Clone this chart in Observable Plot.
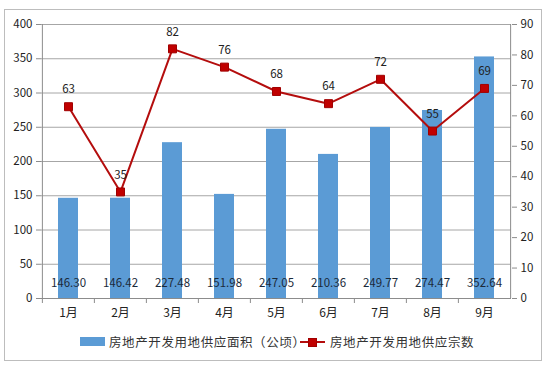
<!DOCTYPE html>
<html><head><meta charset="utf-8">
<script src="https://cdn.jsdelivr.net/npm/d3@7"></script>
<script src="https://cdn.jsdelivr.net/npm/@observablehq/plot@0.6"></script>
<style>
body{margin:0;background:#fff;font-family:"Noto Sans CJK SC",sans-serif;}
#frame{position:absolute;left:4px;top:9px;width:538px;height:352px;border:1px solid #bdbdbd;box-sizing:border-box;}
#plot{position:absolute;left:0;top:0;}
#legend{position:absolute;left:0;top:332px;width:550px;font-size:12.5px;color:#333;letter-spacing:0.6px;}
.li{position:absolute;top:0;display:flex;align-items:center;white-space:nowrap;}
</style></head>
<body>
<div id="frame"></div>
<div id="plot"></div>
<div id="legend">
  <div class="li" style="left:80px"><span style="display:inline-block;width:25px;height:9px;background:#5b9bd5;margin-right:4px"></span><span id="l1"></span></div>
  <div class="li" style="left:300px"><svg width="26" height="12" style="margin-right:4px"><line x1="0" y1="6" x2="25" y2="6" stroke="#b40d0d" stroke-width="2"/><rect x="8.5" y="2.5" width="8" height="8" fill="#c00000" stroke="#a00000"/></svg><span id="l2"></span></div>
</div>
<script>
const months = ["1月","2月","3月","4月","5月","6月","7月","8月","9月"];
const areas = [146.30,146.42,227.48,151.98,247.05,210.36,249.77,274.47,352.64];
const counts = [63,35,82,76,68,64,72,55,69];
const leftTicks = [0,50,100,150,200,250,300,350,400];
const rightTicks = [0,10,20,30,40,50,60,70,80,90];
const seriesNames = ["房地产开发用地供应面积（公顷）","房地产开发用地供应宗数"];

document.getElementById("l1").textContent = seriesNames[0];
document.getElementById("l2").textContent = seriesNames[1];

const yMax = 400, rMax = 90;
const toLeft = v => v * yMax / rMax;
const data = months.map((m,i)=>({m, a: areas[i], c: counts[i], cy: toLeft(counts[i])}));

const W = 550, H = 330, mL = 41, mR = 39;
const bw = (W - mL - mR) / months.length;
const gray = "#8c8c8c";

const chart = Plot.plot({
  width: W, height: H,
  marginLeft: mL, marginRight: mR, marginTop: 24, marginBottom: 32,
  style: {fontFamily: '"Noto Sans CJK SC", sans-serif', fontSize: "11.5px", color: "#222", background: "transparent"},
  x: {type: "band", domain: months, paddingInner: 0.62, paddingOuter: 0.31, align: 0.5},
  y: {domain: [0, yMax]},
  marks: [
    Plot.gridY(leftTicks, {stroke: "#a6a6a6", strokeOpacity: 1}),
    Plot.barY(data, {x: "m", y: "a", fill: "#5b9bd5"}),
    Plot.text(data, {x: "m", y: 0, text: d => d.a.toFixed(2), dy: -15, fill: "#1b2a3a", fontSize: 11.5}),
    Plot.line(data, {x: "m", y: "cy", stroke: "#b40d0d", strokeWidth: 2}),
    Plot.dot(data, {x: "m", y: "cy", symbol: "square", r: 4.5, fill: "#c00000", stroke: "#a00000", strokeWidth: 1}),
    Plot.text(data, {x: "m", y: "cy", text: d => String(d.c), dy: -17, fill: "#222", fontSize: 11.5}),
    Plot.axisY(leftTicks, {anchor: "left", tickSize: 5, tickPadding: 4, stroke: gray, label: null}),
    Plot.ruleX([0], {x: () => months[0], dx: -bw/2 - 0.0, y1: 0, y2: yMax, stroke: gray}),
    Plot.axisY(rightTicks.map(toLeft), {anchor: "right", tickSize: 5, tickPadding: 4, stroke: gray, label: null, tickFormat: d => String(Math.round(d * rMax / yMax))}),
    Plot.ruleX([0], {x: () => months[months.length-1], dx: bw/2, y1: 0, y2: yMax, stroke: gray}),
    Plot.ruleY([0], {stroke: gray}),
    Plot.axisX(months, {tickSize: 5, tickFormat: () => "", dx: -bw/2, stroke: gray, label: null}),
    Plot.axisX(months, {tickSize: 0, tickPadding: 10, label: null, fontSize: 12})
  ]
});
document.getElementById("plot").appendChild(chart);
</script>
</body></html>
